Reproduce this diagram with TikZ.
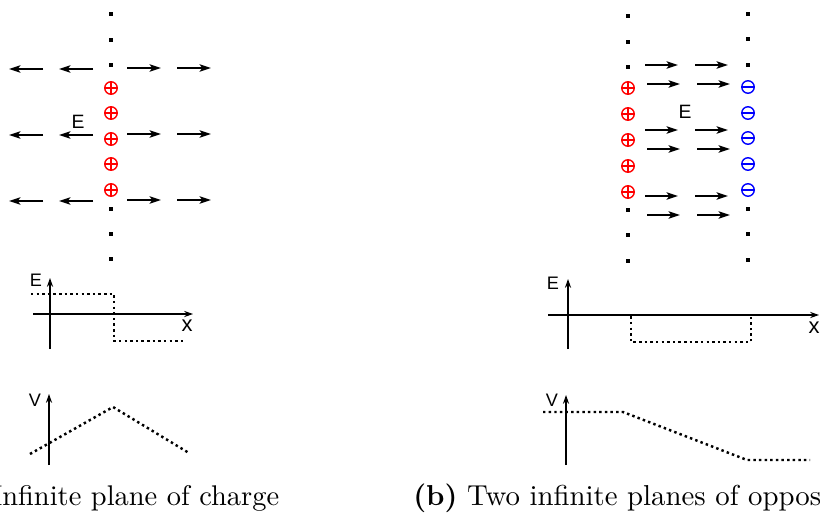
\documentclass[tikz,border=0pt]{standalone}
\usepackage{fontspec}
\newfontfamily\labelfont{Liberation Sans}
\usepackage{tikz}
\usetikzlibrary{arrows.meta, positioning}

\begin{document}
\begin{tikzpicture}[
  x=0.02cm, y=-0.02cm,
  fld/.style={-{Stealth[length=6.5pt, width=4.2pt, inset=1.5pt]}, line width=0.9pt},
  axis/.style={-{Stealth[length=5pt, width=3.5pt]}, line width=0.7pt},
  curve/.style={line width=1.4pt, dash pattern=on 1.4pt off 1.8pt},
  dot/.style={fill, inner sep=0pt, minimum size=1.8pt},
  charge/.style={circle, draw=#1, line width=0.8pt, inner sep=0pt, minimum size=0.25cm},
  poscharge/.style={charge=red, path picture={\draw[red, line width=0.8pt]
      (path picture bounding box.north) -- (path picture bounding box.south)
      (path picture bounding box.west) -- (path picture bounding box.east);}},
  negcharge/.style={charge=blue, path picture={\draw[blue, line width=0.8pt]
      (path picture bounding box.west) -- (path picture bounding box.east);}},
  lbl/.style={font=\labelfont\fontsize{11}{13}\selectfont, inner sep=0pt},
  lblsm/.style={font=\labelfont\fontsize{10.3}{12}\selectfont, inner sep=0pt},
  lblx/.style={font=\labelfont\fontsize{12.5}{14}\selectfont, inner sep=0pt},
  subcap/.style={font=\fontsize{10}{12}\selectfont, anchor=base west, inner sep=0pt},
]
  \useasboundingbox (0,0) rectangle (820,517);

  \foreach \y [count=\i] in {14,40,65,209,234,259} \node[dot] (ldot\i) at (111,\y) {};
  \foreach \y [count=\i] in {88,113,139,164,190} \node[poscharge] (lq\i) at (111,\y) {};
  \foreach \y in {69,135,201} {
    \draw[fld] (43,\y) -- (9,\y);
    \draw[fld] (93,\y) -- (59,\y);
    \draw[fld] (127,\y-1) -- (161,\y-1);
    \draw[fld] (177,\y-1) -- (211,\y-1);
  }
  \node[lbl] (lfield) at (78,122) {E};

  \foreach \y [count=\i] in {16,42,67,210,235,261} \node[dot] (pdot\i) at (628,\y) {};
  \foreach \y [count=\i] in {14,39,65,209,234,260} \node[dot] (ndot\i) at (748,\y) {};
  \foreach \y [count=\i] in {88,114,140,166,192} \node[poscharge] (pq\i) at (628,\y) {};
  \foreach \y [count=\i] in {87,113,138,164,190} \node[negcharge] (nq\i) at (748,\y) {};
  \foreach \y in {65,130,196} {
    \draw[fld] (645,\y) -- (678,\y);
    \draw[fld] (695,\y) -- (728,\y);
    \draw[fld] (647,\y+19) -- (680,\y+19);
    \draw[fld] (697,\y+19) -- (730,\y+19);
  }
  \node[lbl] (rfield) at (685,112) {E};

  \draw[curve] (31,294) -- (114,294) -- (114,341) -- (185,341);
  \draw[axis] (50,349) -- (50,278);
  \draw[axis] (33,314) -- (193,314);
  \node[lblsm] (le) at (36,280) {E};
  \node[lblx] (lx) at (187,326) {x};

  \draw[curve] (30,454) -- (113,407) -- (189,453);
  \draw[axis] (49,465) -- (49,394);
  \node[lblsm] (lv) at (35,400) {V};

  \draw[curve] (548,315) -- (631,315) -- (631,342) -- (751,342) -- (751,315) -- (812,315);
  \draw[axis] (568,349) -- (568,279);
  \draw[axis] (548,315) -- (819,315);
  \node[lblsm] (re) at (553,283) {E};
  \node[lblx] (rx) at (814,328) {x};

  \draw[curve] (543,412) -- (623,412) -- (747,460) -- (810,460);
  \draw[axis] (566,465) -- (566,395);
  \node[lblsm] (rv) at (552,400) {V};

  \node[subcap] (capa) at (2,505) {\scalebox{1.62}{\llap{\textbf{(a)} I}nfinite plane of charge}};
  \node[subcap] (capb) at (413,505) {\scalebox{1.64}{\textbf{(b)} Two infinite planes of opposite charge}};
\end{tikzpicture}
\end{document}
